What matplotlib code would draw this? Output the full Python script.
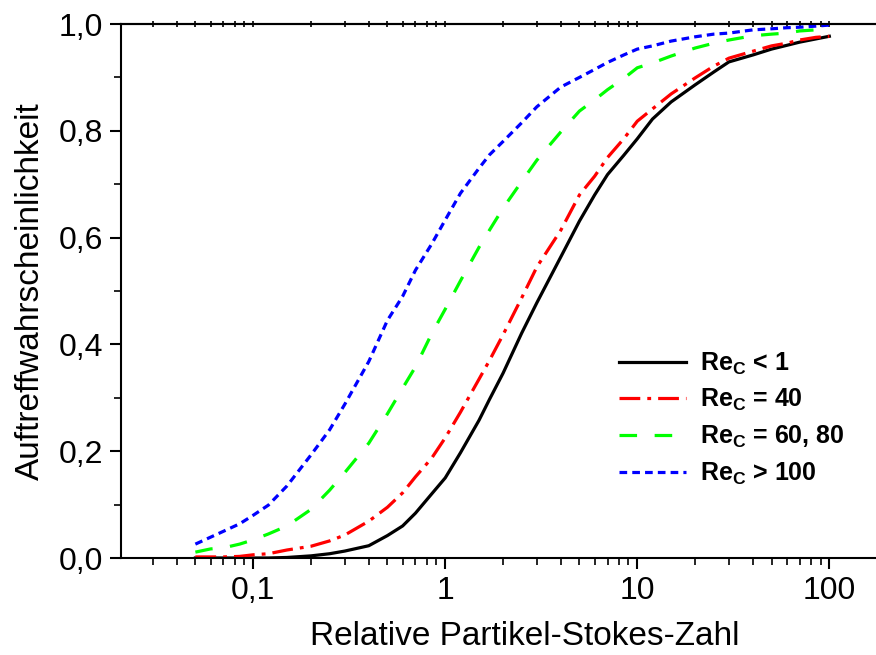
import numpy as np
import matplotlib.pyplot as plt
from matplotlib.ticker import FixedLocator, FuncFormatter, LogLocator, NullFormatter, MultipleLocator

plt.rcParams['font.family'] = ['Liberation Sans', 'DejaVu Sans']
plt.rcParams['mathtext.fontset'] = 'custom'
plt.rcParams['mathtext.rm'] = 'Liberation Sans:bold'

# Stokes-Zahl Stuetzstellen
stk = [0.05, 0.06, 0.07, 0.085, 0.1, 0.12, 0.15, 0.2, 0.25, 0.3, 0.4, 0.5, 0.6, 0.7, 0.85,
       1, 1.2, 1.5, 1.7, 2, 2.5, 3, 4, 5, 6, 7, 8.5, 10, 12, 15, 20, 25, 30, 40, 50, 60, 70, 85, 100]

re_lt1 = [0.0, 0.0, 0.0, 0.0, 0.0, 0.0, 0.001, 0.004, 0.008, 0.013, 0.023, 0.042, 0.06, 0.084, 0.12,
          0.15, 0.197, 0.258, 0.297, 0.346, 0.421, 0.478, 0.564, 0.631, 0.68, 0.718, 0.754, 0.785,
          0.822, 0.854, 0.886, 0.91, 0.929, 0.942, 0.953, 0.96, 0.966, 0.972, 0.977]
re_40 = [0.002, 0.002, 0.002, 0.003, 0.006, 0.008, 0.015, 0.022, 0.032, 0.043, 0.069, 0.095, 0.122,
         0.152, 0.187, 0.225, 0.273, 0.335, 0.37, 0.418, 0.487, 0.545, 0.614, 0.68, 0.715, 0.75,
         0.785, 0.818, 0.841, 0.869, 0.899, 0.921, 0.936, 0.949, 0.959, 0.964, 0.97, 0.975, 0.977]
re_60_80 = [0.011, 0.017, 0.019, 0.026, 0.034, 0.045, 0.06, 0.091, 0.127, 0.16, 0.215, 0.27, 0.318,
            0.358, 0.42, 0.466, 0.519, 0.582, 0.614, 0.655, 0.705, 0.745, 0.798, 0.837, 0.858, 0.877,
            0.898, 0.918, 0.927, 0.94, 0.955, 0.964, 0.97, 0.978, 0.981, 0.983, 0.987, 0.989, 0.992]
re_gt100 = [0.026, 0.039, 0.05, 0.064, 0.08, 0.099, 0.135, 0.193, 0.24, 0.288, 0.368, 0.445, 0.49,
            0.539, 0.588, 0.633, 0.683, 0.73, 0.755, 0.78, 0.815, 0.845, 0.882, 0.9, 0.915, 0.928,
            0.942, 0.953, 0.959, 0.968, 0.976, 0.981, 0.983, 0.989, 0.991, 0.993, 0.994, 0.996, 0.998]

labels = [r'Re$_\mathrm{C}$ < 1', r'Re$_\mathrm{C}$ = 40', r'Re$_\mathrm{C}$ = 60, 80', r'Re$_\mathrm{C}$ > 100']

fig = plt.figure(figsize=(8.76, 6.55), dpi=100)
ax = fig.add_axes([121 / 876, 97 / 655, 755 / 876, 534 / 655])

lw = 2.3
ax.plot(stk, re_lt1, color='black', lw=lw, ls='-', label=labels[0])
ax.plot(stk, re_40, color='#ff0000', lw=lw, ls=(0, (6.5, 2.2, 1.2, 2.2)), label=labels[1])
ax.plot(stk, re_60_80, color='#00ff00', lw=lw, ls=(0, (5.5, 5.5)), label=labels[2])
ax.plot(stk, re_gt100, color='#0000ff', lw=lw, ls=(0, (2.4, 1.6)), label=labels[3])

ax.set_xscale('log')
ax.set_xlim(0.0205, 175)
ax.set_ylim(0, 1.0)

ax.xaxis.set_major_locator(FixedLocator([0.1, 1, 10, 100]))
ax.xaxis.set_minor_locator(LogLocator(base=10, subs=np.arange(2, 10)))
ax.xaxis.set_minor_formatter(NullFormatter())
ax.xaxis.set_major_formatter(FuncFormatter(lambda v, p: ('%g' % v).replace('.', ',')))
ax.yaxis.set_major_locator(MultipleLocator(0.2))
ax.yaxis.set_minor_locator(MultipleLocator(0.1))
ax.yaxis.set_major_formatter(FuncFormatter(lambda v, p: ('%.1f' % v).replace('.', ',')))

ax.spines['right'].set_visible(False)
for s in ['left', 'bottom', 'top']:
    ax.spines[s].set_linewidth(1.5)

ax.tick_params(axis='both', which='major', direction='out', length=8, width=1.5, labelsize=23, pad=5)
ax.tick_params(axis='both', which='minor', direction='out', length=5, width=1.2)

# kleine Striche an der oberen Achse
top = ax.secondary_xaxis('top')
top.xaxis.set_major_locator(FixedLocator([0.1, 1, 10, 100]))
top.xaxis.set_minor_locator(LogLocator(base=10, subs=np.arange(2, 10)))
top.xaxis.set_major_formatter(NullFormatter())
top.xaxis.set_minor_formatter(NullFormatter())
top.tick_params(which='both', direction='inout', length=4, width=1.2)
top.spines['top'].set_linewidth(1.5)

ax.set_xlabel('Relative Partikel-Stokes-Zahl', fontsize=24)
ax.xaxis.set_label_coords((525 - 121) / 755, -0.118)
ax.set_ylabel('Auftreffwahrscheinlichkeit', fontsize=24, labelpad=9)

leg = ax.legend(loc='upper left', bbox_to_anchor=(606 / 876, 1 - 338 / 655), bbox_transform=fig.transFigure,
                frameon=False, prop={'size': 18, 'weight': 'bold'}, handlelength=2.7,
                handletextpad=0.55, labelspacing=0.42, borderpad=0)

fig.savefig('out.png', dpi=100)
